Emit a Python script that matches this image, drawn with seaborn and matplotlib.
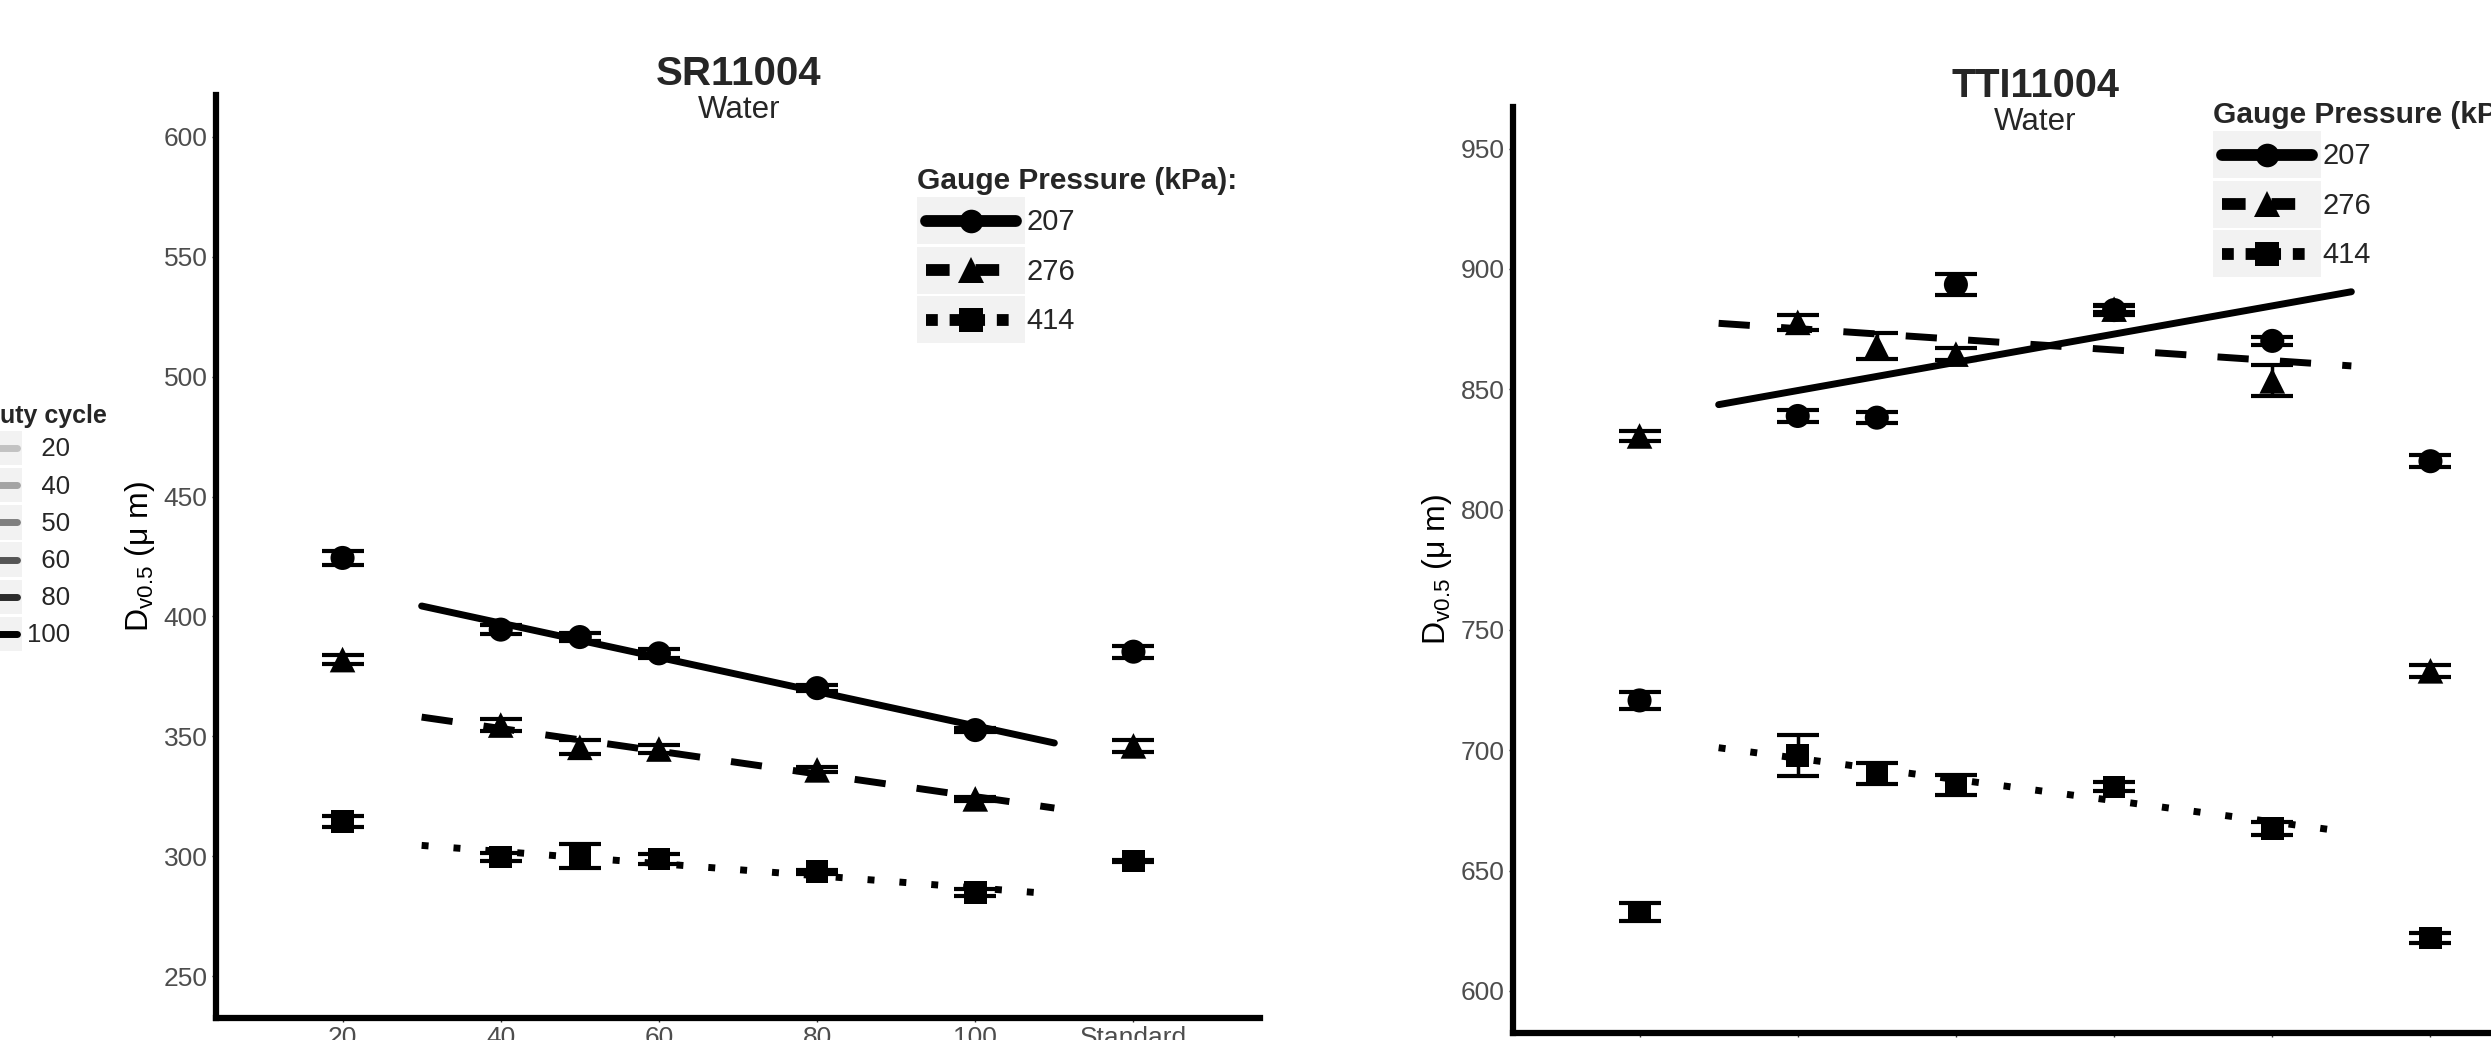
# Dv0.5 vs duty cycle for SR11004 and TTI11004 nozzles (water), three gauge pressures

import numpy as np
import pandas as pd
import matplotlib
matplotlib.use("Agg")
import matplotlib.pyplot as plt
import seaborn as sns
from matplotlib.lines import Line2D
from matplotlib.patches import Patch
from matplotlib.legend_handler import HandlerLine2D, HandlerTuple

sns.set_theme(style="ticks")
plt.rcParams['font.family'] = ['Liberation Sans', 'DejaVu Sans']
plt.rcParams['mathtext.default'] = 'regular'

# duty cycle (%); the "Standard" nozzle sits at 120 on the axis
duty = [20, 40, 50, 60, 80, 100, 120]
tick_pos = [20, 40, 60, 80, 100, 120]
tick_lab = ["20", "40", "60", "80", "100", "Standard"]
fit_duty = [40, 50, 60, 80, 100]
line_span = [30, 110]
pressures = ["207", "276", "414"]

# SR11004 means and error half-widths (um)
sr_207 = [424.4, 394.5, 391.4, 384.6, 370.1, 352.6, 385.3]
sr_276 = [382.0, 354.7, 345.4, 344.7, 336.0, 323.9, 346.0]
sr_414 = [314.4, 299.6, 300.0, 298.9, 293.5, 284.9, 298.0]
sr_207_err = [2.9, 1.8, 1.5, 1.8, 1.4, 1.0, 2.5]
sr_276_err = [1.8, 2.5, 2.9, 1.8, 1.0, 0.8, 2.5]
sr_414_err = [2.2, 1.8, 5.0, 2.2, 0.8, 1.4, 0.6]

# TTI11004
tti_207 = [720.7, 838.9, 838.2, 893.5, 882.9, 870.1, 820.1]
tti_276 = [830.6, 877.8, 868.0, 864.6, 883.3, 853.5, 733.0]
tti_414 = [632.7, 697.9, 690.3, 685.5, 684.8, 667.5, 622.0]
tti_207_err = [3.5, 2.4, 2.4, 4.2, 2.0, 1.7, 2.4]
tti_276_err = [2.0, 3.0, 5.5, 2.4, 1.4, 6.5, 2.4]
tti_414_err = [3.8, 8.5, 4.3, 4.1, 1.9, 2.6, 2.0]

duty_levels = ["20", "40", "50", "60", "80", "100"]
duty_shades = ["#C2C2C2", "#A3A3A3", "#7F7F7F", "#555555", "#2B2B2B", "#000000"]

marker_map = {"207": "o", "276": "^", "414": "s"}
size_map = {"207": 300, "276": 340, "414": 265}
dash_map = {"207": "", "276": (4.5, 4.5), "414": (1, 3.6)}
ylab = "D$_{v0.5}$ (μ m)"

W, H = 2491, 1040
fig = plt.figure(figsize=(W / 100, H / 100), dpi=100, facecolor="white")


def panel_frame(means, errs):
    rows = []
    for p, m, e in zip(pressures, means, errs):
        for d, v, s in zip(duty, m, e):
            rows.append({"duty": d, "dv": v, "err": s, "pressure": p})
    return pd.DataFrame(rows)


def trend_frame(df):
    # linear fit over the 40-100 % duty cycles, drawn from 30 to 110
    rows = []
    for p in pressures:
        sub = df[(df["pressure"] == p) & df["duty"].isin(fit_duty)]
        slope, icpt = np.polyfit(sub["duty"], sub["dv"], 1)
        for x in line_span:
            rows.append({"duty": x, "dv": slope * x + icpt, "pressure": p})
    return pd.DataFrame(rows)


def draw_panel(rect, df, ylim, yticks):
    ax = fig.add_axes(rect)
    sns.lineplot(data=trend_frame(df), x="duty", y="dv", style="pressure",
                 style_order=pressures, dashes=dash_map, color="black",
                 linewidth=5, legend=False, errorbar=None, ax=ax)
    for p in pressures:
        sub = df[df["pressure"] == p]
        ax.errorbar(sub["duty"], sub["dv"], yerr=sub["err"], fmt="none",
                    ecolor="black", elinewidth=2.5, capsize=15, capthick=3,
                    zorder=3)
    sns.scatterplot(data=df, x="duty", y="dv", style="pressure",
                    style_order=pressures, markers=marker_map,
                    size="pressure", sizes=size_map, color="black",
                    linewidth=0, legend=False, ax=ax, zorder=4)
    ax.set_xlim(4, 136)
    pad = (ylim[1] - ylim[0]) * 0.05
    ax.set_ylim(ylim[0] - pad, ylim[1] + pad)
    ax.set_xticks(tick_pos, tick_lab)
    ax.set_yticks(yticks)
    ax.set_xlabel("")
    ax.set_ylabel(ylab, fontsize=23, color="black", va="center")
    ax.yaxis.set_label_coords(-0.073, 0.5)
    for s in ["top", "right"]:
        ax.spines[s].set_visible(False)
    for s in ["left", "bottom"]:
        ax.spines[s].set_linewidth(4.5)
        ax.spines[s].set_color("black")
        ax.spines[s].set_capstyle("projecting")
    ax.tick_params(length=3, width=1, color="#333333", labelcolor="#4D4D4D",
                   labelsize=19, pad=3)
    ax.set_facecolor("white")
    return ax


sr_df = panel_frame([sr_207, sr_276, sr_414], [sr_207_err, sr_276_err, sr_414_err])
tti_df = panel_frame([tti_207, tti_276, tti_414], [tti_207_err, tti_276_err, tti_414_err])

ax1 = draw_panel([216 / W, 1 - 1018 / H, 1044 / W, 923 / H], sr_df,
                 (250, 600), np.arange(250, 601, 50))
ax2 = draw_panel([1513 / W, 1 - 1033 / H, 1044 / W, 926.5 / H], tti_df,
                 (600, 950), np.arange(600, 951, 50))

# titles
fig.text(739 / W, 1 - 85 / H, "SR11004", ha="center", va="baseline",
         fontsize=29, fontweight="bold")
fig.text(739 / W, 1 - 118 / H, "Water", ha="center", va="baseline", fontsize=22.5)
fig.text(2035 / W, 1 - 97 / H, "TTI11004", ha="center", va="baseline",
         fontsize=28.5, fontweight="bold")
fig.text(2035 / W, 1 - 130 / H, "Water", ha="center", va="baseline", fontsize=22.5)


class InsetLine(HandlerLine2D):
    # key line inset from the key edges and centred on the key patch
    def __init__(self, inset, **kw):
        super().__init__(**kw)
        self.inset = inset

    def get_xdata(self, legend, xdescent, ydescent, width, height, fontsize):
        pad = self.inset * width
        return [-xdescent + pad, -xdescent + width - pad], [-xdescent + 0.5 * width]

    def create_artists(self, legend, orig_handle, xdescent, ydescent, width,
                       height, fontsize, trans):
        return super().create_artists(legend, orig_handle, xdescent,
                                      2 * ydescent, width, height, fontsize, trans)


key_bg = "#F2F2F2"
gauge_styles = {"207": "-", "276": (0, (2, 2.2)), "414": (0, (1, 1))}
gauge_msize = {"207": 17, "276": 19, "414": 17.5}
gauge_handles = [
    (Patch(facecolor=key_bg, edgecolor="none"),
     Line2D([], [], color="black", lw=8.5, linestyle=gauge_styles[p],
            marker=marker_map[p], markersize=gauge_msize[p], markeredgewidth=0))
    for p in pressures
]


def gauge_legend(x_px, y_px):
    fig.legend(gauge_handles, pressures, loc="upper left",
               bbox_to_anchor=(x_px / W, 1 - y_px / H), frameon=False,
               fontsize=21, title="Gauge Pressure (kPa):",
               title_fontproperties={"weight": "bold", "size": 21.5},
               alignment="left", handlelength=3.7, handleheight=2.1,
               labelspacing=0.085, handletextpad=0.05, borderpad=0,
               borderaxespad=0, numpoints=1,
               handler_map={tuple: HandlerTuple(ndivide=1, pad=0),
                            Line2D: InsetLine(0.08, numpoints=1)})


gauge_legend(917, 167)
gauge_legend(2213, 101)

# duty cycle legend, mostly cut off at the left edge
duty_handles = [
    (Patch(facecolor=key_bg, edgecolor="none"),
     Line2D([], [], color=c, lw=5))
    for c in duty_shades
]
duty_labels = [lab if len(lab) > 2 else "\u2007" + lab for lab in duty_levels]
fig.legend(duty_handles, duty_labels, loc="upper left",
           bbox_to_anchor=(-18 / W, 1 - 404 / H), frameon=False,
           fontsize=18.5, title="Duty cycle",
           title_fontproperties={"weight": "bold", "size": 18},
           alignment="left", handlelength=1.56, handleheight=1.68,
           labelspacing=0.11, handletextpad=0.2, borderpad=0,
           borderaxespad=0,
           handler_map={tuple: HandlerTuple(ndivide=1, pad=0),
                        Line2D: InsetLine(0.12, numpoints=1)})

fig.savefig("out.png", dpi=100, facecolor="white")
